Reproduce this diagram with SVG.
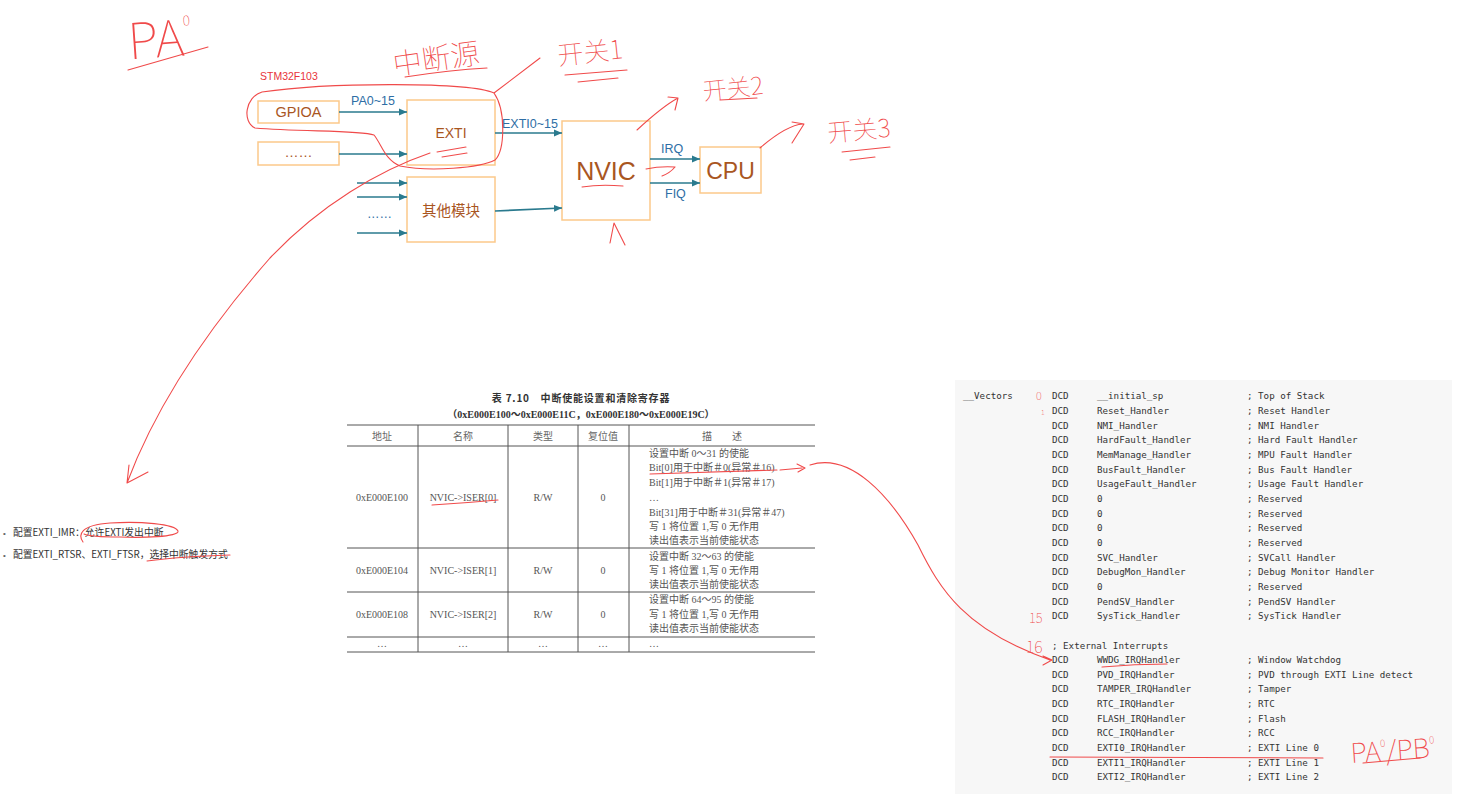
<svg xmlns="http://www.w3.org/2000/svg" width="1457" height="794" viewBox="0 0 1457 794">
<defs>
<marker id="ah" markerWidth="9" markerHeight="9" refX="8" refY="4" orient="auto" markerUnits="userSpaceOnUse"><path d="M0,0.5 L8,4 L0,7.5 Z" fill="#2a7a8e"/></marker>
</defs>
<style>
.box{fill:#fff;stroke:#fcc98a;stroke-width:1.5}
.bt{font-family:"Liberation Sans",Arial,"Noto Sans CJK SC",sans-serif;fill:#a9561f;text-anchor:middle}
.lbl{font-family:"Liberation Sans",Arial,sans-serif;font-size:12.5px;fill:#2e6ea5}
.conn{stroke:#2a7a8e;stroke-width:1.6;fill:none;marker-end:url(#ah)}
.red{stroke:#f04a4a;stroke-width:1.1;fill:none;stroke-linecap:round;stroke-linejoin:round}
.hw{font-family:"Noto Sans CJK SC",sans-serif;font-weight:100;fill:#f04a4a}
.tb{font-family:"Liberation Serif","Noto Sans CJK SC",serif;font-size:10px;fill:#555}
.th{font-family:"Noto Sans CJK SC",sans-serif;font-size:10px;fill:#666;text-anchor:middle}
.tc{text-anchor:middle}
.tl{stroke:#555;stroke-width:1;fill:none}
.code{font-family:"DejaVu Sans Mono",monospace;font-size:9.2px;fill:#333}
.note{font-family:"Noto Sans CJK SC",sans-serif;font-size:9.8px;fill:#333}
</style>
<rect x="0" y="0" width="1457" height="794" fill="#fff"/>

<!-- block diagram -->
<text x="260" y="80" font-family="Liberation Sans,Arial,sans-serif" font-size="10.5" fill="#e8333a">STM32F103</text>
<g id="gpioa"><rect class="box" x="258" y="101" width="81" height="22"/><text class="bt" x="298.5" y="117" font-size="14.5">GPIOA</text></g>
<g id="dotsbox"><rect class="box" x="258" y="142" width="81" height="23"/><text class="bt" x="298.5" y="157" font-size="14">……</text></g>
<g id="exti"><rect class="box" x="407" y="100" width="88" height="65"/><text class="bt" x="451" y="138" font-size="14">EXTI</text></g>
<g id="other"><rect class="box" x="407" y="177" width="88" height="65"/><text class="bt" x="451" y="216" font-size="14.5" fill="#b97a45">其他模块</text></g>
<g id="nvic"><rect class="box" x="562" y="121" width="88" height="99"/><text class="bt" x="606" y="180" font-size="25">NVIC</text></g>
<g id="cpu"><rect class="box" x="700" y="147" width="61" height="46"/><text class="bt" x="730.5" y="179" font-size="23">CPU</text></g>

<g id="connectors">
<path class="conn" d="M339,112 H407"/>
<path class="conn" d="M339,154 H407"/>
<path class="conn" d="M495,133 H562"/>
<path class="conn" d="M495,211 L562,208"/>
<path class="conn" d="M357,183 H407"/>
<path class="conn" d="M357,197 H407"/>
<path class="conn" d="M357,233 H407"/>
<path class="conn" d="M650,159 H700"/>
<path class="conn" d="M650,183 H700"/>
<text class="lbl" x="351" y="105">PA0~15</text>
<text class="lbl" x="502" y="128">EXTI0~15</text>
<text class="lbl" x="661" y="153" font-size="14">IRQ</text>
<text class="lbl" x="665" y="198" font-size="14">FIQ</text>
<text class="lbl" x="367" y="218" font-size="14" fill="#2e6ea5">……</text>
</g>

<!-- left notes -->
<g id="notes">
<text x="3" y="536" font-family="Liberation Sans,sans-serif" font-size="8" fill="#666">•</text>
<text class="note" x="13" y="536">配置EXTI_IMR：允许EXTI发出中断</text>
<text x="3" y="558" font-family="Liberation Sans,sans-serif" font-size="8" fill="#666">•</text>
<text class="note" x="13" y="558">配置EXTI_RTSR、EXTI_FTSR，选择中断触发方式</text>
</g>

<!-- table -->
<g id="table">
<text x="581" y="402" font-family="Noto Sans CJK SC,sans-serif" font-weight="bold" font-size="10" fill="#333" text-anchor="middle" letter-spacing="0.8">表 7.10　中断使能设置和清除寄存器</text>
<text x="581" y="418" font-family="Liberation Serif,Noto Sans CJK SC,serif" font-weight="bold" font-size="10" fill="#333" text-anchor="middle">（0xE000E100～0xE000E11C，0xE000E180～0xE000E19C）</text>
<line class="tl" x1="347" y1="425" x2="815" y2="425" stroke-width="1.8"/>
<line class="tl" x1="347" y1="446" x2="815" y2="446" stroke-width="1.2"/>
<line class="tl" x1="347" y1="548" x2="815" y2="548"/>
<line class="tl" x1="347" y1="592" x2="815" y2="592"/>
<line class="tl" x1="347" y1="637" x2="815" y2="637"/>
<line class="tl" x1="347" y1="652" x2="815" y2="652" stroke-width="1.5"/>
<line class="tl" x1="418" y1="425" x2="418" y2="652"/>
<line class="tl" x1="508" y1="425" x2="508" y2="652"/>
<line class="tl" x1="578" y1="425" x2="578" y2="652"/>
<line class="tl" x1="629" y1="425" x2="629" y2="652"/>
<text class="th" x="382" y="440">地址</text>
<text class="th" x="463" y="440">名称</text>
<text class="th" x="543" y="440">类型</text>
<text class="th" x="603" y="440">复位值</text>
<text class="th" x="722" y="440">描　　述</text>
<text class="tb tc" x="382" y="501">0xE000E100</text>
<text class="tb tc" x="463" y="501">NVIC-&gt;ISER[0]</text>
<text class="tb tc" x="543" y="501">R/W</text>
<text class="tb tc" x="603" y="501">0</text>
<text class="tb" x="649" y="457">设置中断 0～31 的使能</text>
<text class="tb" x="649" y="471">Bit[0]用于中断＃0(异常＃16)</text>
<text class="tb" x="649" y="486">Bit[1]用于中断＃1(异常＃17)</text>
<text class="tb" x="649" y="501">…</text>
<text class="tb" x="649" y="516">Bit[31]用于中断＃31(异常＃47)</text>
<text class="tb" x="649" y="530">写 1 将位置 1,写 0 无作用</text>
<text class="tb" x="649" y="544">读出值表示当前使能状态</text>
<text class="tb tc" x="382" y="574">0xE000E104</text>
<text class="tb tc" x="463" y="574">NVIC-&gt;ISER[1]</text>
<text class="tb tc" x="543" y="574">R/W</text>
<text class="tb tc" x="603" y="574">0</text>
<text class="tb" x="649" y="560">设置中断 32～63 的使能</text>
<text class="tb" x="649" y="574">写 1 将位置 1,写 0 无作用</text>
<text class="tb" x="649" y="588">读出值表示当前使能状态</text>
<text class="tb tc" x="382" y="618">0xE000E108</text>
<text class="tb tc" x="463" y="618">NVIC-&gt;ISER[2]</text>
<text class="tb tc" x="543" y="618">R/W</text>
<text class="tb tc" x="603" y="618">0</text>
<text class="tb" x="649" y="603">设置中断 64～95 的使能</text>
<text class="tb" x="649" y="618">写 1 将位置 1,写 0 无作用</text>
<text class="tb" x="649" y="632">读出值表示当前使能状态</text>
<text class="tb tc" x="382" y="647">…</text>
<text class="tb tc" x="463" y="647">…</text>
<text class="tb tc" x="543" y="647">…</text>
<text class="tb tc" x="603" y="647">…</text>
<text class="tb" x="649" y="647">…</text>
</g>

<!-- code listing -->
<g id="code">
<rect x="955" y="380" width="497" height="414" fill="#f7f7f7"/>
<text class="code" x="963" y="399.4">__Vectors</text>
<g class="code">
<text x="1052" y="399.4">DCD</text><text x="1097" y="399.4">__initial_sp</text><text x="1247" y="399.4">; Top of Stack</text>
<text x="1052" y="414.1">DCD</text><text x="1097" y="414.1">Reset_Handler</text><text x="1247" y="414.1">; Reset Handler</text>
<text x="1052" y="428.7">DCD</text><text x="1097" y="428.7">NMI_Handler</text><text x="1247" y="428.7">; NMI Handler</text>
<text x="1052" y="443.4">DCD</text><text x="1097" y="443.4">HardFault_Handler</text><text x="1247" y="443.4">; Hard Fault Handler</text>
<text x="1052" y="458">DCD</text><text x="1097" y="458">MemManage_Handler</text><text x="1247" y="458">; MPU Fault Handler</text>
<text x="1052" y="472.7">DCD</text><text x="1097" y="472.7">BusFault_Handler</text><text x="1247" y="472.7">; Bus Fault Handler</text>
<text x="1052" y="487.3">DCD</text><text x="1097" y="487.3">UsageFault_Handler</text><text x="1247" y="487.3">; Usage Fault Handler</text>
<text x="1052" y="502">DCD</text><text x="1097" y="502">0</text><text x="1247" y="502">; Reserved</text>
<text x="1052" y="516.6">DCD</text><text x="1097" y="516.6">0</text><text x="1247" y="516.6">; Reserved</text>
<text x="1052" y="531.3">DCD</text><text x="1097" y="531.3">0</text><text x="1247" y="531.3">; Reserved</text>
<text x="1052" y="545.9">DCD</text><text x="1097" y="545.9">0</text><text x="1247" y="545.9">; Reserved</text>
<text x="1052" y="560.6">DCD</text><text x="1097" y="560.6">SVC_Handler</text><text x="1247" y="560.6">; SVCall Handler</text>
<text x="1052" y="575.2">DCD</text><text x="1097" y="575.2">DebugMon_Handler</text><text x="1247" y="575.2">; Debug Monitor Handler</text>
<text x="1052" y="589.9">DCD</text><text x="1097" y="589.9">0</text><text x="1247" y="589.9">; Reserved</text>
<text x="1052" y="604.5">DCD</text><text x="1097" y="604.5">PendSV_Handler</text><text x="1247" y="604.5">; PendSV Handler</text>
<text x="1052" y="619.2">DCD</text><text x="1097" y="619.2">SysTick_Handler</text><text x="1247" y="619.2">; SysTick Handler</text>
<text x="1052" y="648.5">; External Interrupts</text>
<text x="1052" y="663.1">DCD</text><text x="1097" y="663.1">WWDG_IRQHandler</text><text x="1247" y="663.1">; Window Watchdog</text>
<text x="1052" y="677.8">DCD</text><text x="1097" y="677.8">PVD_IRQHandler</text><text x="1247" y="677.8">; PVD through EXTI Line detect</text>
<text x="1052" y="692.4">DCD</text><text x="1097" y="692.4">TAMPER_IRQHandler</text><text x="1247" y="692.4">; Tamper</text>
<text x="1052" y="707.1">DCD</text><text x="1097" y="707.1">RTC_IRQHandler</text><text x="1247" y="707.1">; RTC</text>
<text x="1052" y="721.7">DCD</text><text x="1097" y="721.7">FLASH_IRQHandler</text><text x="1247" y="721.7">; Flash</text>
<text x="1052" y="736.4">DCD</text><text x="1097" y="736.4">RCC_IRQHandler</text><text x="1247" y="736.4">; RCC</text>
<text x="1052" y="751">DCD</text><text x="1097" y="751">EXTI0_IRQHandler</text><text x="1247" y="751">; EXTI Line 0</text>
<text x="1052" y="765.7">DCD</text><text x="1097" y="765.7">EXTI1_IRQHandler</text><text x="1247" y="765.7">; EXTI Line 1</text>
<text x="1052" y="780.3">DCD</text><text x="1097" y="780.3">EXTI2_IRQHandler</text><text x="1247" y="780.3">; EXTI Line 2</text>
</g>
</g>

<!-- handwritten annotations -->
<g id="annotations">
<text class="hw" x="128" y="58" font-size="50" transform="rotate(-4 150 40)">PA<tspan font-size="14" dy="-30">0</tspan></text>
<path class="red" d="M128,70 L208,47"/>
<text class="hw" x="392" y="70" font-size="29" transform="rotate(-8 430 55)">中断源</text>
<path class="red" d="M405,77 Q450,70 487,68"/>
<text class="hw" x="557" y="61" font-size="26" transform="rotate(-6 595 48)">开关1</text>
<path class="red" d="M565,75 L627,70 M578,82 L618,78"/>
<text class="hw" x="702" y="96" font-size="24" transform="rotate(-6 740 82)">开关2</text>
<path class="red" d="M720,100 L757,98"/>
<text class="hw" x="827" y="139" font-size="25" transform="rotate(-5 862 125)">开关3</text>
<path class="red" d="M842,152 L890,147 M850,160 L875,157"/>
<path class="red" d="M494,93 C470,82 330,82 262,92 C245,97 242,122 255,128 C300,132 360,130 374,135 C382,145 385,160 400,166 C430,172 480,168 495,160 C505,150 506,110 494,93 L540,58"/>
<path class="red" d="M437,152 L466,147 M442,157 L467,153"/>
<path class="red" d="M430,153 C380,170 320,205 270,258 C220,315 160,395 127,483 M129,465 L127,483 L148,472"/>
<path class="red" d="M637,130 C650,118 665,105 678,98 M668,97 L678,98 L675,110"/>
<path class="red" d="M760,148 C775,135 790,125 803,124 M792,122 L804,124 L792,143"/>
<path class="red" d="M582,187 Q600,184 623,186"/>
<path class="red" d="M646,169 Q660,166 675,167 M662,176 Q670,173 675,167"/>
<path class="red" d="M610,243 L614,223 L625,245"/>
<path class="red" d="M83,542 C78,535 80,525 110,523 C140,521 175,524 178,531 C180,537 140,538 120,537 C100,537 88,536 84,534"/>
<path class="red" d="M147,561 C170,558 200,556 230,555"/>
<path class="red" d="M432,505 Q465,503 498,500"/>
<path class="red" d="M650,474 Q710,472 777,470 M780,470 L802,468 M797,464 L805,468 L798,472"/>
<path class="red" d="M810,465 C850,452 890,495 918,545 C940,590 965,630 1050,660 M1043,656 L1052,660 L1043,665"/>
<text class="hw" x="1036" y="400" font-size="11">0</text>
<text class="hw" x="1041" y="415" font-size="7">1</text>
<text class="hw" x="1029" y="623" font-size="13">15</text>
<text class="hw" x="1026" y="653" font-size="16">16</text>
<path class="red" d="M1102,667 Q1135,664 1167,664"/>
<path class="red" d="M1050,757 L1323,758"/>
<text class="hw" x="1350" y="760" font-size="27" transform="rotate(-4 1395 745)">PA<tspan font-size="10" dy="-14">0</tspan><tspan font-size="27" dy="14">/PB</tspan><tspan font-size="10" dy="-14">0</tspan></text>
<path class="red" d="M1363,763 L1420,758"/>
</g>
</svg>
